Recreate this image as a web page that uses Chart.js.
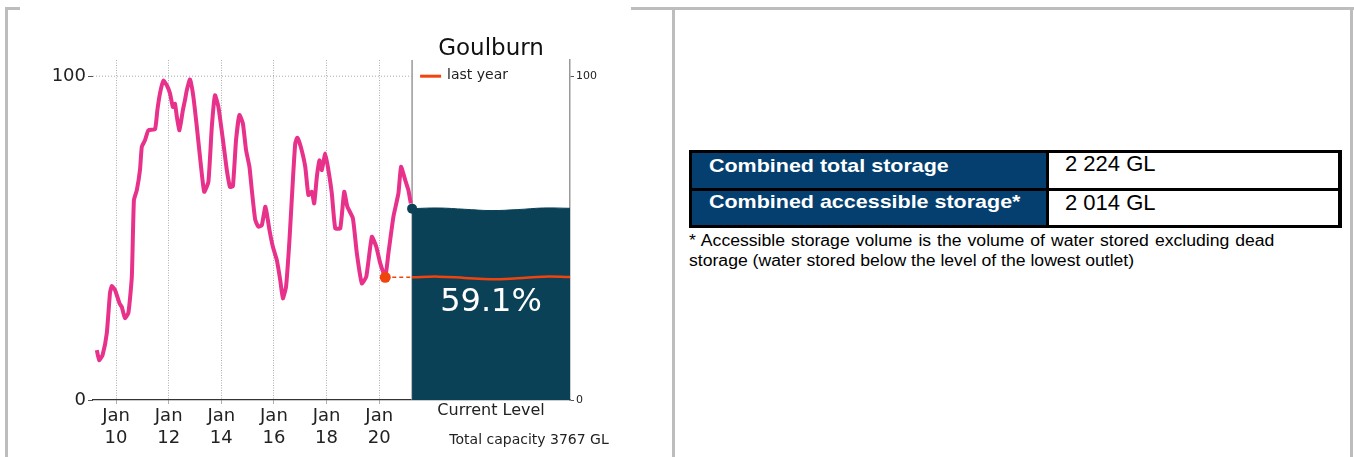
<!DOCTYPE html>
<html>
<head>
<meta charset="utf-8">
<script src="https://cdn.jsdelivr.net/npm/chart.js"></script>
<style>
  body { margin: 0; background: #fff; width: 1354px; height: 457px; overflow: hidden; position: relative; font-family: "Liberation Sans", Arial, sans-serif; }
  #storage-chart { position: absolute; left: 0; top: 0; }
  .frame { position: absolute; background: #bdbdbd; }
  .cell { position: absolute; }
  .txt { position: absolute; white-space: nowrap; transform-origin: left top; }
  .head { color: #fff; font-weight: bold; font-size: 19px; line-height: 19px; transform: scaleX(1.13); }
  .val { color: #000; font-size: 22px; line-height: 22px; }
  .note { color: #000; font-size: 16px; line-height: 20px; transform: scaleX(1.1); }
</style>
</head>
<body>
<canvas id="storage-chart" width="640" height="457"></canvas>

<div class="frame" style="left:5px;top:7px;width:3px;height:450px"></div>
<div class="frame" style="left:5px;top:7px;width:15px;height:3px"></div>
<div class="frame" style="left:631px;top:7px;width:723px;height:3px"></div>
<div class="frame" style="left:672px;top:7px;width:3px;height:450px"></div>
<div class="frame" style="left:1350px;top:7px;width:3px;height:450px"></div>

<div class="cell" style="left:689px;top:150px;width:653px;height:78px;background:#000"></div>
<div class="cell" style="left:692px;top:153px;width:354px;height:35px;background:#043f6f"></div>
<div class="cell" style="left:1049px;top:153px;width:289px;height:35px;background:#fff"></div>
<div class="cell" style="left:692px;top:191px;width:354px;height:34px;background:#043f6f"></div>
<div class="cell" style="left:1049px;top:191px;width:289px;height:34px;background:#fff"></div>
<div id="table-text"></div>
<div class="txt note" style="left:689px;top:231px;word-spacing:1px">* Accessible storage volume is the volume of water stored excluding dead</div>
<div class="txt note" style="left:689px;top:251px">storage (water stored below the level of the lowest outlet)</div>

<script>
// storage history, % of capacity (decimal years)
var histYears = [2009.27, 2009.36, 2009.49, 2009.65, 2009.77, 2009.84, 2009.96, 2010.13, 2010.22, 2010.34,
  2010.47, 2010.60, 2010.68, 2010.79, 2010.91, 2010.98, 2011.10, 2011.23, 2011.48, 2011.57,
  2011.67, 2011.80, 2011.93, 2012.05, 2012.16, 2012.24, 2012.31, 2012.41, 2012.54, 2012.62,
  2012.69, 2012.81, 2012.94, 2013.07, 2013.19, 2013.35, 2013.51, 2013.64, 2013.76, 2013.89,
  2014.08, 2014.21, 2014.33, 2014.44, 2014.56, 2014.69, 2014.82, 2014.94, 2015.07, 2015.16,
  2015.29, 2015.41, 2015.54, 2015.67, 2015.73, 2015.83, 2015.96, 2016.11, 2016.24, 2016.34,
  2016.46, 2016.59, 2016.72, 2016.81, 2016.89, 2017.02, 2017.19, 2017.31, 2017.44, 2017.53,
  2017.63, 2017.73, 2017.82, 2017.95, 2018.07, 2018.20, 2018.33, 2018.52, 2018.67, 2018.79,
  2019.00, 2019.15, 2019.34, 2019.51, 2019.72, 2019.89, 2020.04, 2020.23, 2020.35, 2020.54,
  2020.73, 2020.83, 2020.99, 2021.11, 2021.20];
var histLevels = [15.4, 12.3, 13.9, 20.7, 33.0, 35.2, 34.0, 29.9, 28.7, 25.3,
  26.9, 38.0, 61.7, 64.8, 71.0, 78.2, 80.2, 83.3, 83.6, 89.5,
  94.7, 98.6, 97.2, 94.7, 90.5, 91.5, 87.5, 83.3, 89.5, 92.6,
  95.7, 99.0, 93.6, 84.4, 75.1, 64.3, 67.4, 84.4, 94.1, 90.5,
  79.2, 71.0, 65.8, 66.0, 80.2, 88.0, 85.4, 77.2, 72.0, 64.8,
  55.6, 53.5, 54.0, 59.7, 57.6, 52.5, 47.3, 43.2, 37.0, 31.4,
  35.0, 49.4, 67.9, 79.2, 81.0, 78.2, 72.0, 63.3, 64.3, 60.7,
  68.9, 74.0, 71.0, 76.1, 71.0, 63.8, 53.0, 53.0, 64.3, 59.7,
  56.1, 45.3, 36.0, 38.1, 50.4, 47.3, 42.2, 38.0, 45.3, 56.6,
  63.8, 72.0, 67.9, 64.8, 60.7];

var currentLevel = 59.1;
var lastYearDate = 2020.23;
var lastYearLevel = 37.9;

// "Current Level" panel, drawn as extra x range after the history
var boxStart = 2021.25;
var waveYears = [2021.25, 2022.25, 2023.25, 2024.25, 2025.25, 2026.25, 2027.25];
var levelWave = [59.1, 59.3, 58.9, 58.5, 58.8, 59.3, 59.2];
var lastYearWave = [37.9, 38.1, 37.7, 37.3, 37.6, 38.1, 38.0];

var xTicks = [2010, 2012, 2014, 2016, 2018, 2020];
var yTicks = [0, 100];

var title = 'Goulburn';
var capacityText = 'Total capacity 3767 GL';

var tableRows = [
  ['Combined total storage', '2 224 GL'],
  ['Combined accessible storage*', '2 014 GL']
];

var pink = '#e8318a';
var orange = '#f0440f';
var teal = '#0b4156';
var font = "'DejaVu Sans', sans-serif";

function pts(xs, ys) {
  return xs.map(function(x, i) { return {x: x, y: ys[i]}; });
}

// table text
var rowTop = [155.6, 192.2];
var valTop = [153.4, 192.4];
var tt = document.getElementById('table-text');
tableRows.forEach(function(r, i) {
  var h = document.createElement('div');
  h.className = 'txt head';
  h.style.left = '709px';
  h.style.top = rowTop[i] + 'px';
  h.textContent = r[0];
  tt.appendChild(h);
  var v = document.createElement('div');
  v.className = 'txt val';
  v.style.left = '1065px';
  v.style.top = valTop[i] + 'px';
  v.textContent = r[1];
  tt.appendChild(v);
});

var labelsPlugin = {
  id: 'labels',
  beforeDatasetsDraw: function(chart) {
    var ctx = chart.ctx, a = chart.chartArea;
    var bx = chart.scales.x.getPixelForValue(boxStart);
    ctx.save();
    ctx.strokeStyle = '#999';
    ctx.lineWidth = 1.5;
    ctx.beginPath();
    ctx.moveTo(bx, a.top);
    ctx.lineTo(bx, a.bottom);
    ctx.stroke();
    ctx.restore();
  },
  afterDraw: function(chart) {
    var ctx = chart.ctx, a = chart.chartArea;
    var ys = chart.scales.y;
    var bx = chart.scales.x.getPixelForValue(boxStart);
    var cx = (bx + a.right) / 2;
    ctx.save();
    ctx.textAlign = 'center';
    ctx.textBaseline = 'alphabetic';
    ctx.fillStyle = '#111';
    ctx.font = '23px ' + font;
    ctx.fillText(title, cx, 55);

    // legend
    var ly = ys.getPixelForValue(100);
    ctx.strokeStyle = orange;
    ctx.lineWidth = 3;
    ctx.beginPath();
    ctx.moveTo(bx + 8, ly);
    ctx.lineTo(bx + 29, ly);
    ctx.stroke();
    ctx.textAlign = 'left';
    ctx.textBaseline = 'middle';
    ctx.fillStyle = '#222';
    ctx.font = '14px ' + font;
    ctx.fillText('last year', bx + 35, ly - 1);

    ctx.textAlign = 'center';
    ctx.fillStyle = '#fff';
    ctx.font = '32px ' + font;
    ctx.fillText(currentLevel.toFixed(1) + '%', cx, 303);

    ctx.fillStyle = '#222';
    ctx.font = '16px ' + font;
    ctx.fillText('Current Level', cx, a.bottom + 11);
    ctx.font = '14px ' + font;
    ctx.fillText(capacityText, cx + 38, a.bottom + 40);
    ctx.restore();
  }
};

var ctx = document.getElementById('storage-chart').getContext('2d');
var storageChart = new Chart(ctx, {
  type: 'line',
  data: {
    datasets: [{
      // last year marker
      data: [{x: lastYearDate, y: lastYearLevel}],
      showLine: false,
      pointRadius: 5.5,
      pointBackgroundColor: orange,
      pointBorderWidth: 0,
      order: 0
    }, {
      data: pts(waveYears, lastYearWave),
      borderColor: orange,
      borderWidth: 2.5,
      pointRadius: 0,
      tension: 0.4,
      order: 1
    }, {
      data: [{x: lastYearDate, y: lastYearLevel}, {x: boxStart, y: lastYearWave[0]}],
      borderColor: orange,
      borderWidth: 1.6,
      borderDash: [4, 3],
      pointRadius: 0,
      order: 2
    }, {
      // current level panel
      data: pts(waveYears, levelWave),
      borderColor: teal,
      borderWidth: 1,
      backgroundColor: teal,
      fill: 'origin',
      pointRadius: 0,
      tension: 0.4,
      order: 3
    }, {
      data: [{x: boxStart, y: currentLevel}],
      showLine: false,
      pointRadius: 5,
      pointBackgroundColor: teal,
      pointBorderWidth: 0,
      order: 4
    }, {
      data: pts(histYears, histLevels),
      borderColor: pink,
      borderWidth: 4,
      pointRadius: 0,
      tension: 0.15,
      borderJoinStyle: 'round',
      order: 5
    }, {
      // dotted 100% line over the history part
      data: [{x: 2009.125, y: 100}, {x: boxStart, y: 100}],
      borderColor: '#aaa',
      borderWidth: 1,
      borderDash: [1, 2],
      pointRadius: 0,
      order: 6
    }]
  },
  options: {
    responsive: false,
    animation: false,
    layout: { padding: { top: 60, left: 0, right: 0, bottom: 0 } },
    plugins: { legend: { display: false }, tooltip: { enabled: false } },
    scales: {
      x: {
        type: 'linear',
        min: 2009.125,
        max: 2027.25,
        afterBuildTicks: function(s) { s.ticks = xTicks.map(function(v) { return {value: v}; }); },
        afterFit: function(s) { s.height = 57; },
        ticks: {
          autoSkip: false,
          maxRotation: 0,
          padding: 1,
          color: '#222',
          font: { family: font, size: 18, lineHeight: 1.22 },
          callback: function(v) { return ['Jan', String(v).slice(2)]; }
        },
        grid: { color: '#999', lineWidth: 0.8, tickLength: 4, tickColor: '#999' },
        border: { color: '#333', width: 1.2, dash: [1, 1.5] }
      },
      y: {
        min: 0,
        max: 105,
        afterBuildTicks: function(s) { s.ticks = yTicks.map(function(v) { return {value: v}; }); },
        afterFit: function(s) { s.width = 93; },
        ticks: { color: '#222', padding: 2, font: { family: font, size: 18 } },
        grid: { drawOnChartArea: false, tickLength: 5, tickColor: '#555' },
        border: { display: false }
      },
      y2: {
        position: 'right',
        min: 0,
        max: 105,
        z: 1,
        afterBuildTicks: function(s) { s.ticks = yTicks.map(function(v) { return {value: v}; }); },
        afterFit: function(s) { s.width = 70; },
        ticks: { color: '#222', padding: 2, font: { family: font, size: 11 } },
        grid: { drawOnChartArea: false, tickLength: 4, tickColor: '#555' },
        border: { color: '#999', width: 1.5 }
      }
    }
  },
  plugins: [labelsPlugin]
});
</script>
</body>
</html>
